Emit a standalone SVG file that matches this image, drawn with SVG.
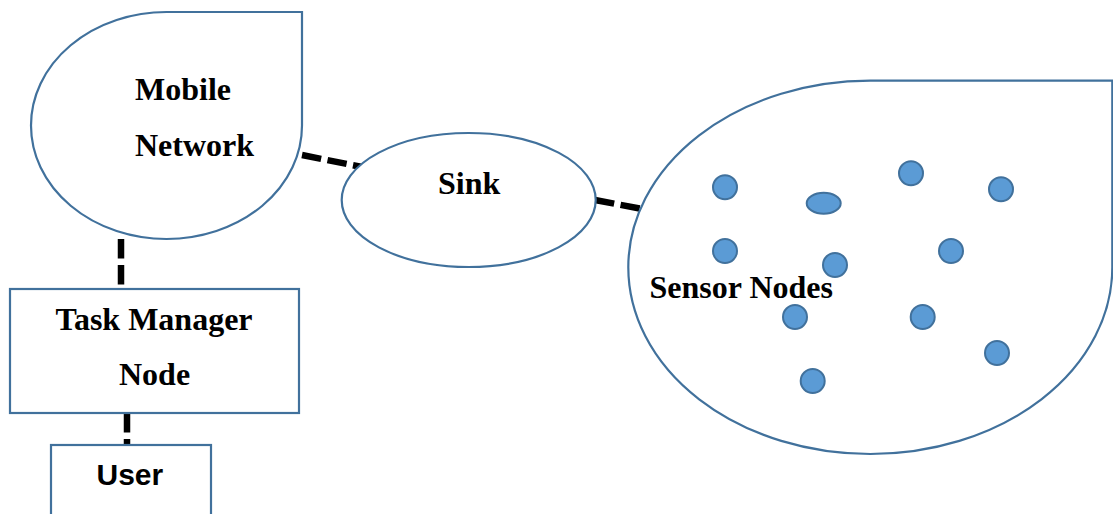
<svg xmlns="http://www.w3.org/2000/svg" width="1113" height="514" viewBox="0 0 1113 514">
  <style>
    .shape { fill: #ffffff; stroke: #41719C; stroke-width: 2.2; }
    .dot { fill: #5B9BD5; stroke: #41719C; stroke-width: 2; }
    .link { fill: none; stroke: #000000; stroke-width: 6.5; stroke-dasharray: 19.5 6.5; }
    .label { font-family: "Liberation Serif", "Times New Roman", serif; font-weight: bold; font-size: 32px; fill: #000000; }
    .label-sans { font-family: "Liberation Sans", Arial, sans-serif; font-weight: bold; font-size: 30px; fill: #000000; }
  </style>

  <rect width="1113" height="514" fill="#ffffff"/>

  <!-- dashed links between components -->
  <g id="connectors">
    <line class="link" x1="302" y1="155" x2="362" y2="167"/>
    <line class="link" x1="595" y1="200" x2="640" y2="208.5"/>
    <line class="link" x1="121" y1="239" x2="121" y2="289"/>
    <line class="link" x1="127" y1="413" x2="127" y2="445"/>
  </g>

  <g id="mobile-network">
    <path class="shape" d="M 31,125.5 A 135.5,113.5 0 0 1 166.5,12 L 302,12 L 302,125.5 A 135.5,113.5 0 0 1 166.5,239 A 135.5,113.5 0 0 1 31,125.5 Z"/>
    <text class="label" x="135" y="100">Mobile</text>
    <text class="label" x="135" y="156">Network</text>
  </g>

  <g id="sink">
    <ellipse class="shape" cx="468.7" cy="200" rx="127" ry="67"/>
    <text class="label" x="438" y="194">Sink</text>
  </g>

  <g id="sensor-field">
    <path class="shape" d="M 628.3,267.3 A 242,186.7 0 0 1 870.3,80.6 L 1112.3,80.6 L 1112.3,267.3 A 242,186.7 0 0 1 870.3,454 A 242,186.7 0 0 1 628.3,267.3 Z"/>
    <g id="sensor-nodes">
      <circle class="dot" cx="725" cy="187.3" r="12"/>
      <ellipse class="dot" cx="823.7" cy="203.3" rx="17" ry="10.5"/>
      <circle class="dot" cx="911" cy="173.3" r="12"/>
      <circle class="dot" cx="1001" cy="189.3" r="12"/>
      <circle class="dot" cx="725" cy="251" r="12"/>
      <circle class="dot" cx="835" cy="265" r="12"/>
      <circle class="dot" cx="951" cy="251" r="12"/>
      <circle class="dot" cx="795" cy="317" r="12"/>
      <circle class="dot" cx="922.7" cy="317" r="12"/>
      <circle class="dot" cx="997" cy="353" r="12"/>
      <circle class="dot" cx="812.7" cy="381" r="12"/>
    </g>
    <text class="label" x="649.5" y="298">Sensor Nodes</text>
  </g>

  <g id="task-manager">
    <rect class="shape" x="10" y="289" width="289" height="124"/>
    <text class="label" x="55.5" y="330">Task Manager</text>
    <text class="label" x="119" y="385">Node</text>
  </g>

  <g id="user">
    <rect class="shape" x="51" y="445" width="160" height="80"/>
    <text class="label-sans" x="96.5" y="485">User</text>
  </g>
</svg>
